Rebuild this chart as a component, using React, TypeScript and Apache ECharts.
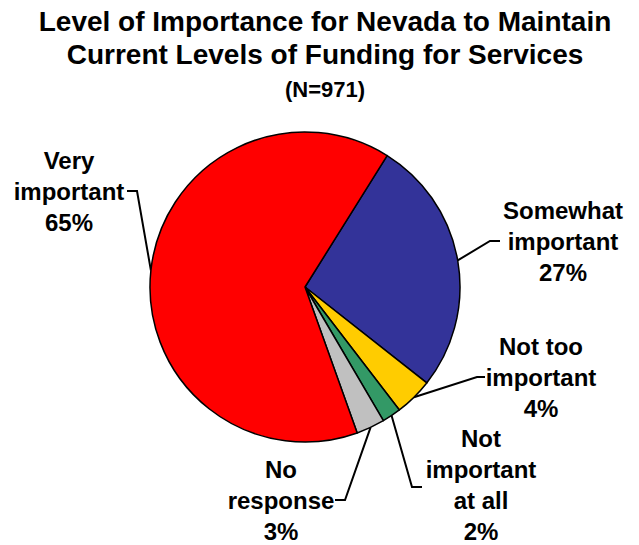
import React, { useEffect, useRef } from "react";
import * as echarts from "echarts";

const titleLines = [
  "Level of Importance for Nevada to Maintain",
  "Current Levels of Funding for Services",
];
const subtitle = "(N=971)";
const categories = [
  "Somewhat\nimportant",
  "Not too\nimportant",
  "Not\nimportant\nat all",
  "No\nresponse",
  "Very\nimportant",
];
const values = [27, 4, 2, 3, 65];
const colors = ["#333399", "#FFCC00", "#339966", "#C0C0C0", "#FF0000"];

// label anchor, elbow and end of leader line (pixels in chart)
const labelLayouts: { x: number; y: number; elbow: number[]; end: number[] }[] = [
  { x: 563, y: 241, elbow: [490, 241], end: [500, 241] },
  { x: 541, y: 377, elbow: [477, 377], end: [485, 377] },
  { x: 481, y: 485, elbow: [412, 487], end: [422, 487] },
  { x: 281, y: 500, elbow: [345, 500], end: [335, 500] },
  { x: 69, y: 191, elbow: [137, 191], end: [127, 191] },
];

export default function App() {
  const ref = useRef<HTMLDivElement>(null);
  useEffect(() => {
    document.body.style.margin = "0";
    const chart = echarts.init(ref.current!, null, { renderer: "svg" });
    const font = "'Liberation Sans', Arial, sans-serif";
    chart.setOption({
      animation: false,
      backgroundColor: "#ffffff",
      title: {
        text: titleLines.join("\n"),
        subtext: subtitle,
        left: 320,
        top: 0,
        itemGap: 6,
        textAlign: "center",
        textStyle: {
          fontFamily: font,
          fontSize: 28,
          fontWeight: "bold",
          lineHeight: 33,
          color: "#000",
        },
        subtextStyle: {
          fontFamily: font,
          fontSize: 22,
          fontWeight: "bold",
          lineHeight: 24,
          color: "#000",
        },
      },
      series: [
        {
          type: "pie",
          center: [305, 287],
          radius: 155,
          startAngle: 58,
          clockwise: true,
          avoidLabelOverlap: false,
          data: categories.map((name, i) => ({
            name,
            value: values[i],
            itemStyle: { color: colors[i] },
          })),
          itemStyle: { borderColor: "#000", borderWidth: 1.5 },
          emphasis: { disabled: true },
          label: {
            show: true,
            position: "outside",
            formatter: "{b}\n{c}%",
            fontFamily: font,
            fontSize: 24,
            fontWeight: "bold",
            lineHeight: 31,
            color: "#000",
            align: "center",
          },
          labelLine: {
            show: true,
            length: 10,
            length2: 10,
            lineStyle: { color: "#000", width: 2 },
          },
          labelLayout: (params: any) => {
            const l = labelLayouts[params.dataIndex];
            const start =
              params.labelLinePoints && params.labelLinePoints[0]
                ? params.labelLinePoints[0]
                : l.elbow;
            return {
              x: l.x,
              y: l.y,
              align: "center",
              verticalAlign: "middle",
              labelLinePoints: [start, l.elbow, l.end],
            };
          },
        },
      ],
    });
    return () => chart.dispose();
  }, []);
  return <div ref={ref} style={{ width: 639, height: 545 }} />;
}
